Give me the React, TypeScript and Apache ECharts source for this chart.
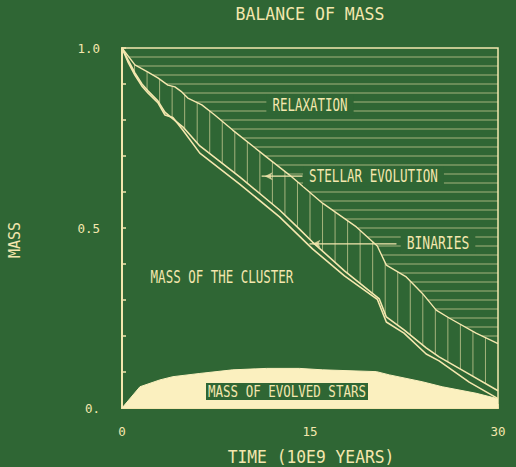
import React, { useEffect, useRef } from "react";
import * as echarts from "echarts";

const BG = "#2f6634";
const CREAM = "#f4e7ae";
const FILL = "#fbf0bf";
const FONT = "DejaVu Sans Mono";

// Tick labels
const xTickLabels: Record<number, string> = { 0: "0", 15: "15", 30: "30" };
const yTickLabels: { v: number; t: string }[] = [
  { v: 0, t: "0." },
  { v: 0.5, t: "0.5" },
  { v: 1, t: "1.0" },
];

// Upper boundary (mass not lost through relaxation)
const relaxationLine: number[][] = [
  [0, 1.0], [1.03, 0.953], [2.07, 0.933], [2.86, 0.917], [3.66, 0.897], [4.22, 0.892],
  [4.77, 0.878], [5.25, 0.861], [6.37, 0.842], [7.4, 0.814], [8.83, 0.772], [11.54, 0.697],
  [13.37, 0.647], [16.0, 0.569], [18.7, 0.503], [20.37, 0.45], [21.09, 0.397], [22.68, 0.364],
  [23.95, 0.319], [25.07, 0.272], [26.1, 0.25], [28.25, 0.208], [30, 0.179],
];

// Lower boundary of stellar-evolution loss
const stellarLine: number[][] = [
  [0, 1.0], [0.48, 0.967], [1.03, 0.931], [1.59, 0.9], [2.07, 0.881], [2.86, 0.853],
  [3.42, 0.822], [4.06, 0.803], [4.85, 0.781], [6.21, 0.728], [9.39, 0.642], [12.57, 0.55],
  [14.16, 0.497], [15.2, 0.461], [17.75, 0.381], [20.53, 0.303], [21.09, 0.253], [22.5, 0.217],
  [24.27, 0.167], [25.3, 0.142], [27.7, 0.094], [30, 0.048],
];

// Mass of the cluster (after binaries)
const clusterLine: number[][] = [
  [0, 1.0], [0.48, 0.961], [1.03, 0.925], [1.59, 0.894], [2.07, 0.875], [2.86, 0.848],
  [3.42, 0.814], [4.06, 0.807], [4.85, 0.772], [6.21, 0.708], [9.39, 0.622], [12.57, 0.531],
  [15.2, 0.442], [17.75, 0.367], [20.37, 0.302], [21.09, 0.239], [22.5, 0.208], [24.27, 0.15],
  [25.3, 0.131], [27.7, 0.072], [30, 0.026],
];

// Mass of evolved stars
const evolvedStars: number[][] = [
  [0, 0], [1.43, 0.059], [3.02, 0.078], [4.06, 0.087], [6.21, 0.096], [8.83, 0.106],
  [11.54, 0.11], [14.17, 0.11], [16.0, 0.106], [20.3, 0.101], [21.33, 0.092], [23.95, 0.073],
  [25.55, 0.059], [28.25, 0.041], [29.84, 0.027], [30, 0.025],
];

// Annotation arrows (tip, tail)
const stellarArrow: number[][] = [[11.14, 0.644], [14.4, 0.644]];
const binariesArrow: number[][] = [[14.96, 0.456], [21.9, 0.456]];

const HATCH_STEP_Y = 0.025;
const HATCH_STEP_X = 1;

function yAt(line: number[][], x: number): number {
  for (let i = 0; i < line.length - 1; i++) {
    const [x0, y0] = line[i];
    const [x1, y1] = line[i + 1];
    if (x >= x0 && x <= x1) return y0 + ((y1 - y0) * (x - x0)) / (x1 - x0);
  }
  return line[line.length - 1][1];
}

function xAtLevel(line: number[][], h: number): number | null {
  for (let i = 0; i < line.length - 1; i++) {
    const [x0, y0] = line[i];
    const [x1, y1] = line[i + 1];
    if ((h <= y0 && h >= y1) || (h >= y0 && h <= y1)) {
      if (y1 === y0) return x0;
      return x0 + ((x1 - x0) * (h - y0)) / (y1 - y0);
    }
  }
  return null;
}

function buildHatches() {
  const hor: number[][] = [];
  for (let k = 1; k < 40; k++) {
    const h = 1 - k * HATCH_STEP_Y;
    const x = xAtLevel(relaxationLine, h);
    if (x === null) break;
    hor.push([x, h, 30, h]);
  }
  const ver: number[][] = [];
  for (let t = HATCH_STEP_X; t < 30; t += HATCH_STEP_X) {
    ver.push([t, yAt(stellarLine, t), t, yAt(relaxationLine, t)]);
  }
  return { hor, ver };
}

const segRender = (opacity: number) => (params: any, api: any) => {
  const p1 = api.coord([api.value(0), api.value(1)]);
  const p2 = api.coord([api.value(2), api.value(3)]);
  return {
    type: "line",
    shape: { x1: p1[0], y1: p1[1], x2: p2[0], y2: p2[1] },
    style: { stroke: CREAM, lineWidth: 1, opacity },
  };
};

function label(text: string, x: number, y: number, fontSize: number, scaleY: number, bg: boolean, extra: any = {}) {
  return {
    type: "text",
    x,
    y,
    scaleY,
    z: 100,
    style: {
      text,
      fill: CREAM,
      fontFamily: FONT,
      fontSize,
      textAlign: "center",
      textVerticalAlign: "middle",
      ...(bg ? { backgroundColor: BG, padding: [1, 6] } : {}),
    },
    ...extra,
  };
}

export default function App() {
  const ref = useRef<HTMLDivElement>(null);
  useEffect(() => {
    document.body.style.margin = "0";
    document.body.style.background = BG;
    if (!ref.current) return;
    const chart = echarts.init(ref.current, undefined, { renderer: "svg" });
    const { hor, ver } = buildHatches();
    const lineStyle = { color: CREAM, width: 1.6 };
    chart.setOption({
      animation: false,
      backgroundColor: BG,
      grid: {
        left: 122, right: 18, top: 48, bottom: 59,
        show: true, borderColor: CREAM, borderWidth: 1.5, backgroundColor: "transparent",
      },
      xAxis: {
        type: "value", min: 0, max: 30, interval: 5,
        axisLine: { show: true, lineStyle: { color: CREAM, width: 2 } },
        axisTick: { show: true, inside: true, length: 4, lineStyle: { color: CREAM, width: 1.5 } },
        splitLine: { show: false },
        axisLabel: {
          color: CREAM, fontFamily: FONT, fontSize: 12.5, margin: 17,
          formatter: (v: number) => xTickLabels[Math.round(v)] ?? "",
        },
      },
      yAxis: {
        type: "value", min: 0, max: 1, interval: 0.1,
        axisLine: { show: true, lineStyle: { color: CREAM, width: 2 } },
        axisTick: { show: true, inside: true, length: 4, lineStyle: { color: CREAM, width: 1.5 } },
        splitLine: { show: false },
        axisLabel: {
          color: CREAM, fontFamily: FONT, fontSize: 12.5, margin: 22,
          formatter: (v: number) => {
            const f = yTickLabels.find((d) => Math.abs(d.v - v) < 1e-6);
            return f ? f.t : "";
          },
        },
      },
      series: [
        {
          type: "custom", name: "relaxation hatch", data: hor, renderItem: segRender(0.6),
          encode: { x: [0, 2], y: [1, 3] }, silent: true, z: 1,
        },
        {
          type: "custom", name: "stellar hatch", data: ver, renderItem: segRender(0.6),
          encode: { x: [0, 2], y: [1, 3] }, silent: true, z: 1,
        },
        {
          type: "line", name: "evolved", data: evolvedStars, showSymbol: false,
          lineStyle: { color: FILL, width: 1 }, areaStyle: { color: FILL, opacity: 1 }, z: 2,
        },
        { type: "line", name: "relaxation", data: relaxationLine, showSymbol: false, lineStyle: { ...lineStyle, width: 1.4 }, z: 3 },
        { type: "line", name: "stellar", data: stellarLine, showSymbol: false, lineStyle, z: 3 },
        { type: "line", name: "cluster", data: clusterLine, showSymbol: false, lineStyle, z: 3 },
        { type: "line", name: "arrow1", data: stellarArrow, showSymbol: false, lineStyle: { color: CREAM, width: 1.2 }, z: 4 },
        { type: "line", name: "arrow2", data: binariesArrow, showSymbol: false, lineStyle: { color: CREAM, width: 1.2 }, z: 4 },
        {
          type: "scatter", name: "tips", data: [stellarArrow[0], binariesArrow[0]],
          symbol: "arrow", symbolSize: [6, 8], symbolRotate: 90, symbolOffset: [3, 0],
          itemStyle: { color: CREAM }, z: 5,
        },
      ],
      graphic: [
        label("BALANCE OF MASS", 310, 14, 16.5, 1.08, false),
        label("TIME (10E9 YEARS)", 311, 457, 16.3, 1.1, false),
        label("MASS", 14, 240, 15, 1.1, false, { rotation: Math.PI / 2 }),
        label("RELAXATION", 310, 104.5, 12.5, 1.35, true),
        label("STELLAR EVOLUTION", 373.5, 176, 12.6, 1.35, true),
        label("BINARIES", 438, 243, 13, 1.35, true),
        label("MASS OF THE CLUSTER", 222, 277, 12.5, 1.35, false),
        { type: "rect", z: 99, shape: { x: 206, y: 383, width: 162, height: 17 }, style: { fill: BG } },
        label("MASS OF EVOLVED STARS", 287, 391.5, 12.5, 1.3, false),
      ],
    });
    return () => chart.dispose();
  }, []);
  return <div ref={ref} style={{ width: 516, height: 467, background: BG }} />;
}
